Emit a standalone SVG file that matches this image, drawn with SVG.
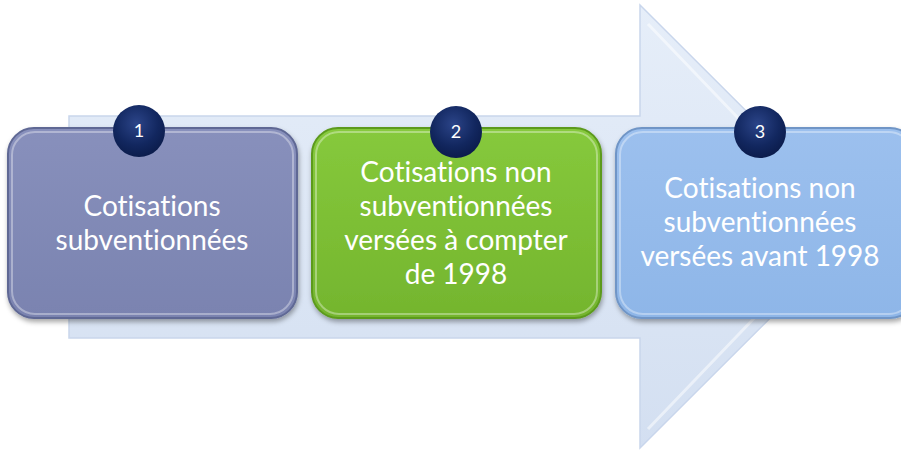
<svg xmlns="http://www.w3.org/2000/svg" width="901" height="450" viewBox="0 0 901 450">
<defs>
<linearGradient id="arrowG" x1="0" y1="0" x2="0" y2="1">
<stop offset="0" stop-color="#E6EEF9"/>
<stop offset="1" stop-color="#D3DFF1"/>
</linearGradient>
<linearGradient id="g1" x1="0" y1="0" x2="0" y2="1">
<stop offset="0" stop-color="#8890BC"/>
<stop offset="1" stop-color="#7A83B0"/>
</linearGradient>
<linearGradient id="g2" x1="0" y1="0" x2="0" y2="1">
<stop offset="0" stop-color="#86C93C"/>
<stop offset="1" stop-color="#74B52E"/>
</linearGradient>
<linearGradient id="g3" x1="0" y1="0" x2="0" y2="1">
<stop offset="0" stop-color="#9CC0EE"/>
<stop offset="1" stop-color="#8EB6E8"/>
</linearGradient>
<radialGradient id="cg" cx="0.45" cy="0.35" r="0.7">
<stop offset="0" stop-color="#2B4488"/>
<stop offset="0.6" stop-color="#12275F"/>
<stop offset="1" stop-color="#0A1A48"/>
</radialGradient>
<filter id="sh" x="-10%" y="-10%" width="120%" height="125%">
<feDropShadow dx="1" dy="3" stdDeviation="2.5" flood-color="#000" flood-opacity="0.35"/>
</filter>
</defs>
<style>
.box{stroke-width:2}
.hl{fill:none;stroke:#fff;stroke-opacity:0.35;stroke-width:2}
.t{font-family:Lato,"Open Sans",sans-serif;font-size:28px;fill:#fff;text-anchor:middle;font-variant-ligatures:none}
.n{font-family:Lato,"Open Sans",sans-serif;font-size:18px;fill:#fff;text-anchor:middle}
</style>
<g id="arrow">
<path d="M69,116 H640 V5 L862,226.5 L640,448 V338 H69 Z" fill="url(#arrowG)" stroke="#C9D6EC" stroke-width="1.5"/>
<path d="M648,24 L842,226.5 L648,429" fill="none" stroke="#fff" stroke-opacity="0.5" stroke-width="3"/>
</g>
<g id="node1">
<rect class="box" x="8" y="128" width="289" height="190" rx="26" fill="url(#g1)" stroke="#5F6894" filter="url(#sh)"/>
<rect class="hl" x="12" y="132" width="281" height="182" rx="23"/>
<circle cx="139" cy="131" r="26" fill="url(#cg)"/>
<text class="n" x="139" y="137">1</text>
<text class="t" x="152" y="216">Cotisations</text>
<text class="t" x="152" y="250">subventionnées</text>
</g>
<g id="node2">
<rect class="box" x="312" y="128" width="289" height="190" rx="26" fill="url(#g2)" stroke="#5C9A1E" filter="url(#sh)"/>
<rect class="hl" x="316" y="132" width="281" height="182" rx="23"/>
<circle cx="456" cy="132" r="26" fill="url(#cg)"/>
<text class="n" x="456" y="138">2</text>
<text class="t" x="456" y="182">Cotisations non</text>
<text class="t" x="456" y="216">subventionnées</text>
<text class="t" x="456" y="250">versées à compter</text>
<text class="t" x="456" y="284">de 1998</text>
</g>
<g id="node3">
<rect class="box" x="616" y="128" width="300" height="190" rx="26" fill="url(#g3)" stroke="#6F95C6" filter="url(#sh)"/>
<rect class="hl" x="620" y="132" width="292" height="182" rx="23"/>
<circle cx="760" cy="132" r="26" fill="url(#cg)"/>
<text class="n" x="760" y="138">3</text>
<text class="t" x="760" y="198">Cotisations non</text>
<text class="t" x="760" y="232">subventionnées</text>
<text class="t" x="760" y="266">versées avant 1998</text>
</g>
</svg>
